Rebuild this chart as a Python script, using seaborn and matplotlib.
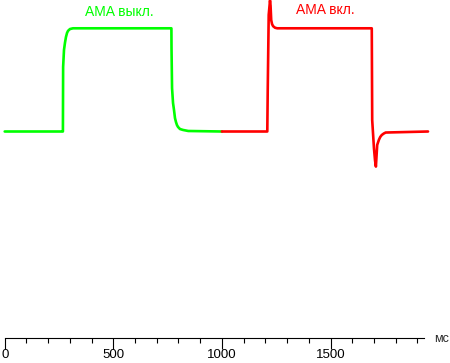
import matplotlib
matplotlib.use("Agg")
import matplotlib.pyplot as plt
import seaborn as sns
import pandas as pd
from matplotlib.ticker import MultipleLocator

# Response curve without overdrive (AMA off), time in ms, brightness in % of step
green_t = [0, 266, 268, 269, 273, 277.5, 282, 287, 291.5, 300.5, 314.5,
           766, 767.5, 768, 770.5, 775, 779.5, 784, 788.5, 793, 798, 807, 821, 845, 1000]
green_v = [0, 0, 0, 62.5, 79, 86, 91.5, 95.5, 97.5, 99.3, 100,
           100, 100, 81, 42, 27.6, 20.8, 13, 9.2, 6.3, 4.4, 2.4, 1.5, 0.5, 0]

# Response curve with overdrive (AMA on)
red_t = [1000, 1209, 1211, 1215.5, 1221.5, 1224, 1227, 1231, 1236, 1245, 1255,
         1690, 1692, 1700, 1705, 1709, 1715, 1723, 1729, 1736, 1745, 1754, 1949]
red_v = [0, 0, 40, 113, 127, 122, 108, 104, 102, 100.5, 100,
         100, 11, -16, -28, -34, -13, -8, -5.3, -3.4, -2, -1, 0]

labels = ["AMA выкл.", "AMA вкл."]
xticks = [0, 500, 1000, 1500]
unit = "мс"

sns.set_style("white")
plt.rcParams["font.family"] = ["Liberation Sans", "DejaVu Sans"]

fig = plt.figure(figsize=(4.5, 3.63), dpi=100)
ax = fig.add_axes([4.7 / 450, (363 - 337.7) / 363, (424 - 4.7) / 450, 337.7 / 363])

df_g = pd.DataFrame({"t": green_t, "v": green_v})
df_r = pd.DataFrame({"t": red_t, "v": red_v})
sns.lineplot(data=df_g, x="t", y="v", ax=ax, color="#00ff00", lw=1.9,
             sort=False, estimator=None, clip_on=False)
sns.lineplot(data=df_r, x="t", y="v", ax=ax, color="#ff0000", lw=1.9,
             sort=False, estimator=None, clip_on=False)

ax.set_xlim(0, (424 - 4.7) / 0.2172)
ax.set_ylim((131.5 - 337.7) / 1.032, 131.5 / 1.032)

ax.text(528, 115.5, labels[0], color="#00ff00", fontsize=10, ha="center", va="center")
ax.text(1477, 117.5, labels[1], color="#ff0000", fontsize=10, ha="center", va="center")
ax.text((441.5 - 4.7) / 0.2172, (131.5 - 339.0) / 1.032, unit, fontsize=9,
        ha="center", va="center", clip_on=False)

for s in ["left", "right", "top"]:
    ax.spines[s].set_visible(False)
ax.spines["bottom"].set_color("black")
ax.spines["bottom"].set_linewidth(0.8)

ax.set_yticks([])
ax.set_xticks(xticks)
ax.set_xticklabels([str(t) for t in xticks])
ax.xaxis.set_minor_locator(MultipleLocator(100))
ax.tick_params(axis="x", which="major", direction="out", length=7.6, width=0.8,
               pad=0.5, labelsize=9.5, colors="black", bottom=True)
ax.tick_params(axis="x", which="minor", direction="out", length=3.4, width=0.8,
               colors="black", bottom=True)
ax.set_xlabel("")
ax.set_ylabel("")

fig.savefig("out.png", dpi=100)
